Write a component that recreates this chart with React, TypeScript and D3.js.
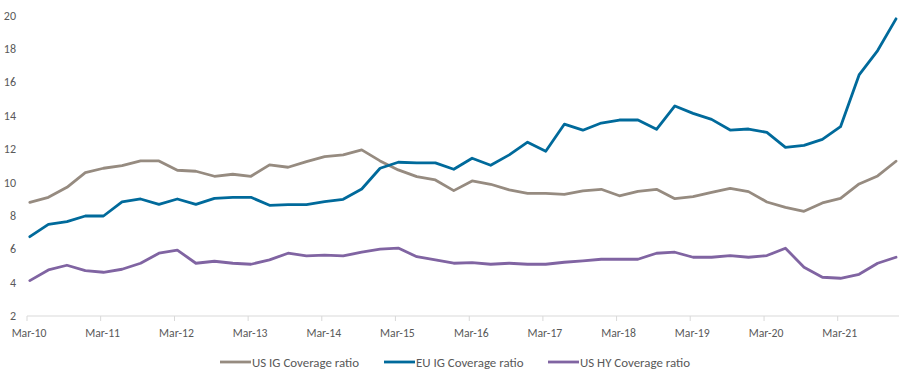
import React from "react";
import * as d3 from "d3";

const startYear = 2010;
const quarterMonths = [2, 5, 8, 11];
const tickLabels = ["Mar-10","Mar-11","Mar-12","Mar-13","Mar-14","Mar-15","Mar-16","Mar-17","Mar-18","Mar-19","Mar-20","Mar-21"];
const yTicks = [2, 4, 6, 8, 10, 12, 14, 16, 18, 20];

const usIG = [8.81,9.11,9.71,10.59,10.85,11.01,11.29,11.29,10.73,10.67,10.37,10.49,10.37,11.05,10.91,11.25,
  11.55,11.65,11.95,11.29,10.75,10.35,10.15,9.51,10.09,9.89,9.55,9.35,9.35,9.29,9.49,9.59,
  9.2,9.47,9.59,9.03,9.15,9.41,9.65,9.45,8.83,8.51,8.27,8.77,9.05,9.91,10.39,11.27];
const euIG = [6.75,7.49,7.65,7.99,7.99,8.83,9.01,8.69,9.01,8.69,9.05,9.11,9.11,8.63,8.67,8.67,
  8.85,8.99,9.61,10.85,11.21,11.17,11.17,10.79,11.45,11.03,11.65,12.41,11.87,13.49,13.13,13.56,
  13.74,13.74,13.18,14.58,14.14,13.78,13.14,13.2,13.0,12.1,12.22,12.58,13.34,16.44,17.9,19.8];
const usHY = [4.12,4.76,5.04,4.72,4.62,4.8,5.16,5.76,5.95,5.16,5.28,5.16,5.1,5.36,5.76,5.6,
  5.65,5.6,5.82,6.0,6.07,5.55,5.36,5.16,5.2,5.1,5.16,5.1,5.1,5.22,5.3,5.4,
  5.4,5.4,5.76,5.82,5.52,5.52,5.62,5.52,5.62,6.06,4.92,4.32,4.26,4.5,5.16,5.52];

const seriesNames = ["US IG Coverage ratio", "EU IG Coverage ratio", "US HY Coverage ratio"];
const seriesColors = ["#968B80", "#006A9B", "#8064A2"];
const seriesData = [usIG, euIG, usHY];

const dates = usIG.map((_, i) => new Date(startYear + Math.floor(i / 4), quarterMonths[i % 4], 15));
const tickDates = tickLabels.map((_, k) => new Date(startYear + k, 2, 1));

export default function App() {
  const W = 914, H = 381;
  const x = d3.scaleTime()
    .domain([new Date(2010, 2, 1), new Date(2021, 2, 1)])
    .range([27, 27 + 73.7 * 11]);
  const y = d3.scaleLinear().domain([2, 20]).range([316, 15.5]);
  const line = d3.line<number>()
    .x((_, i) => x(dates[i]))
    .y(d => y(d));
  const font = "Carlito, Calibri, Lato, sans-serif";
  const legendX = [220, 384, 548];

  return (
    <svg width={W} height={H} style={{ position: "absolute", left: 0, top: 0, background: "#fff" }} fontFamily={font}>
      {yTicks.map(t => (
        <text key={t} x={16} y={y(t)} dy="0.35em" textAnchor="end" fontSize={12} fill="#595959">{t}</text>
      ))}
      <line x1={27} x2={899} y1={y(2)} y2={y(2)} stroke="#D9D9D9" strokeWidth={1} />
      {tickDates.map((d, k) => (
        <g key={k}>
          <line x1={x(d)} x2={x(d)} y1={y(2)} y2={y(2) + 5} stroke="#D9D9D9" />
          <text x={x(d) + 2} y={333} dy="0.35em" textAnchor="middle" fontSize={11.7} fill="#595959">{tickLabels[k]}</text>
        </g>
      ))}
      {seriesData.map((s, j) => (
        <path key={j} d={line(s) || ""} fill="none" stroke={seriesColors[j]} strokeWidth={2.8} strokeLinejoin="round" strokeLinecap="round" />
      ))}
      {seriesNames.map((n, j) => (
        <g key={n}>
          <line x1={legendX[j]} x2={legendX[j] + 31} y1={362} y2={362} stroke={seriesColors[j]} strokeWidth={2.8} />
          <text x={legendX[j] + 32} y={362} dy="0.35em" fontSize={12.9} fill="#595959">{n}</text>
        </g>
      ))}
    </svg>
  );
}
